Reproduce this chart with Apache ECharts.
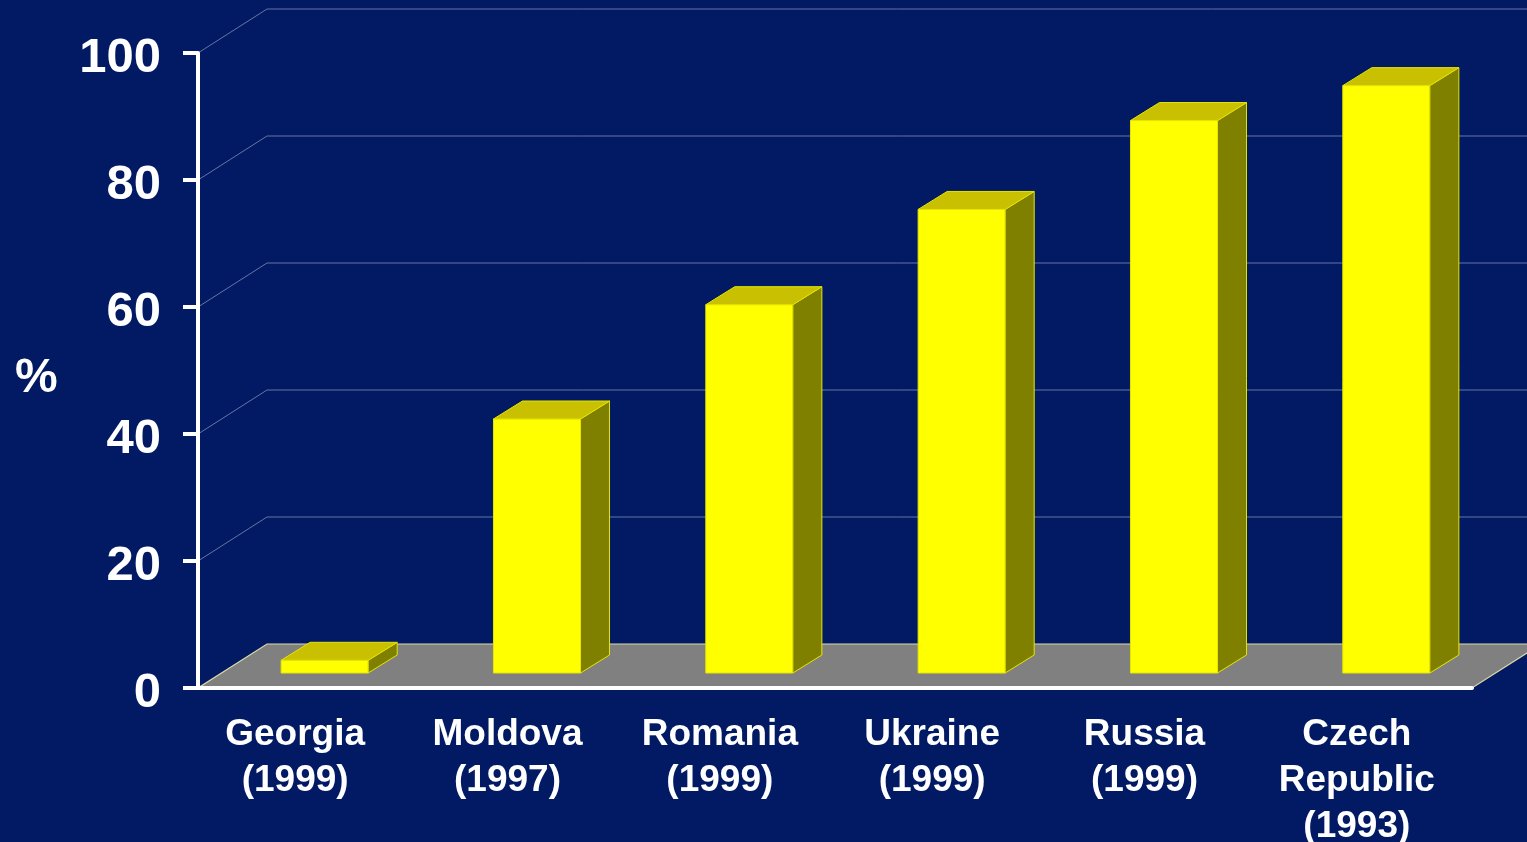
<!DOCTYPE html>
<html>
<head>
<meta charset="utf-8">
<title>3D bars</title>
<style>
  html, body { margin: 0; padding: 0; background: #011a63; }
  #chart { width: 1527px; height: 842px; }
</style>
<script src="https://cdn.jsdelivr.net/npm/echarts@6/dist/echarts.min.js"></script>
</head>
<body>
<div id="chart"></div>
<script>
// data
const categories = ['Georgia\n(1999)', 'Moldova\n(1997)', 'Romania\n(1999)', 'Ukraine\n(1999)', 'Russia\n(1999)', 'Czech\nRepublic\n(1993)'];
const values = [2, 40, 58, 73, 87, 92.5];
const yTicks = [0, 20, 40, 60, 80, 100];

// 3d look
const FLOOR_DEPTH = [69, -44];
const BAR_SHIFT = [20.5, -15];
const BAR_DEPTH = [29, -18];
const FONT = "'Liberation Sans', Arial, sans-serif";

var myChart = echarts.init(document.getElementById('chart'));

function renderFloor(params, api) {
    const cs = params.coordSys;
    const y0 = api.coord([0, 0])[1];
    const [dx, dy] = FLOOR_DEPTH;
    return {
        type: 'polygon',
        shape: { points: [[cs.x, y0], [cs.x + cs.width, y0], [cs.x + cs.width + dx, y0 + dy], [cs.x + dx, y0 + dy]] },
        style: { fill: '#808080', stroke: '#dcdaa6', lineWidth: 1.2 }
    };
}

function renderWall(params, api) {
    const cs = params.coordSys;
    const y = api.coord([0, api.value(1)])[1];
    const [dx, dy] = FLOOR_DEPTH;
    return {
        type: 'polyline',
        shape: { points: [[cs.x, y], [cs.x + dx, y + dy], [cs.x + cs.width + dx, y + dy]] },
        style: { stroke: '#6675a8', lineWidth: 1, fill: null }
    };
}

// y tick labels, placed from the value scale (sit a little below the tick)
function renderYLabel(params, api) {
    const cs = params.coordSys;
    const y = api.coord([0, api.value(1)])[1];
    return {
        type: 'text',
        x: cs.x - 37, y: y + 5,
        style: { text: String(api.value(1)), fill: '#fff', font: 'bold 49px ' + FONT, align: 'right', verticalAlign: 'middle' }
    };
}

function renderBar(params, api) {
    const base = api.coord([api.value(0), 0]);
    const top = api.coord([api.value(0), api.value(1)]);
    const w = api.size([1, 0])[0] * 0.41;
    const x0 = base[0] - w / 2 + BAR_SHIFT[0];
    const x1 = x0 + w;
    const yb = base[1] + BAR_SHIFT[1];
    const yt = top[1] + BAR_SHIFT[1];
    const [dx, dy] = BAR_DEPTH;
    const edge = { stroke: '#e6e600', lineWidth: 1 };
    return {
        type: 'group',
        children: [
            { type: 'polygon', shape: { points: [[x0, yt], [x1, yt], [x1, yb], [x0, yb]] }, style: Object.assign({ fill: '#ffff00' }, edge) },
            { type: 'polygon', shape: { points: [[x1, yt], [x1 + dx, yt + dy], [x1 + dx, yb + dy], [x1, yb]] }, style: Object.assign({ fill: '#808000' }, edge) },
            { type: 'polygon', shape: { points: [[x0, yt], [x0 + dx, yt + dy], [x1 + dx, yt + dy], [x1, yt]] }, style: Object.assign({ fill: '#c8c000' }, edge) }
        ]
    };
}

var option = {
    backgroundColor: '#011a63',
    animation: false,
    grid: { left: 198, right: 55, top: 53, bottom: 154, containLabel: false, outerBoundsMode: 'none' },
    graphic: [
        {
            type: 'text', left: 15, top: 355,
            style: { text: '%', fill: '#fff', font: 'bold 48px ' + FONT }
        }
    ],
    xAxis: {
        type: 'category',
        data: categories,
        z: 5,
        axisLine: { lineStyle: { color: '#fff', width: 4 } },
        axisTick: { length: 12, lineStyle: { color: '#fff', width: 4 } },
        axisLabel: {
            color: '#fff', fontSize: 37, fontWeight: 'bold', fontFamily: FONT,
            lineHeight: 46, margin: 24, padding: [0, 18, 0, 0], interval: 0
        }
    },
    yAxis: {
        type: 'value',
        min: 0, max: 100, interval: 20,
        z: 5,
        splitLine: { show: false },
        axisLine: { show: true, lineStyle: { color: '#fff', width: 4 } },
        axisTick: { show: true, length: 15, lineStyle: { color: '#fff', width: 4 } },
        axisLabel: { show: false }
    },
    series: [
        {
            type: 'custom', z: 1, silent: true,
            renderItem: renderFloor,
            data: [[0, 0]]
        },
        {
            type: 'custom', z: 1, silent: true,
            renderItem: renderWall,
            data: yTicks.filter(v => v > 0).map(v => [0, v])
        },
        {
            type: 'custom', z: 6, silent: true,
            renderItem: renderYLabel,
            data: yTicks.map(v => [0, v])
        },
        {
            type: 'custom', z: 3,
            renderItem: renderBar,
            data: values.map((v, i) => [i, v])
        }
    ]
};

option && myChart.setOption(option);
</script>
</body>
</html>
